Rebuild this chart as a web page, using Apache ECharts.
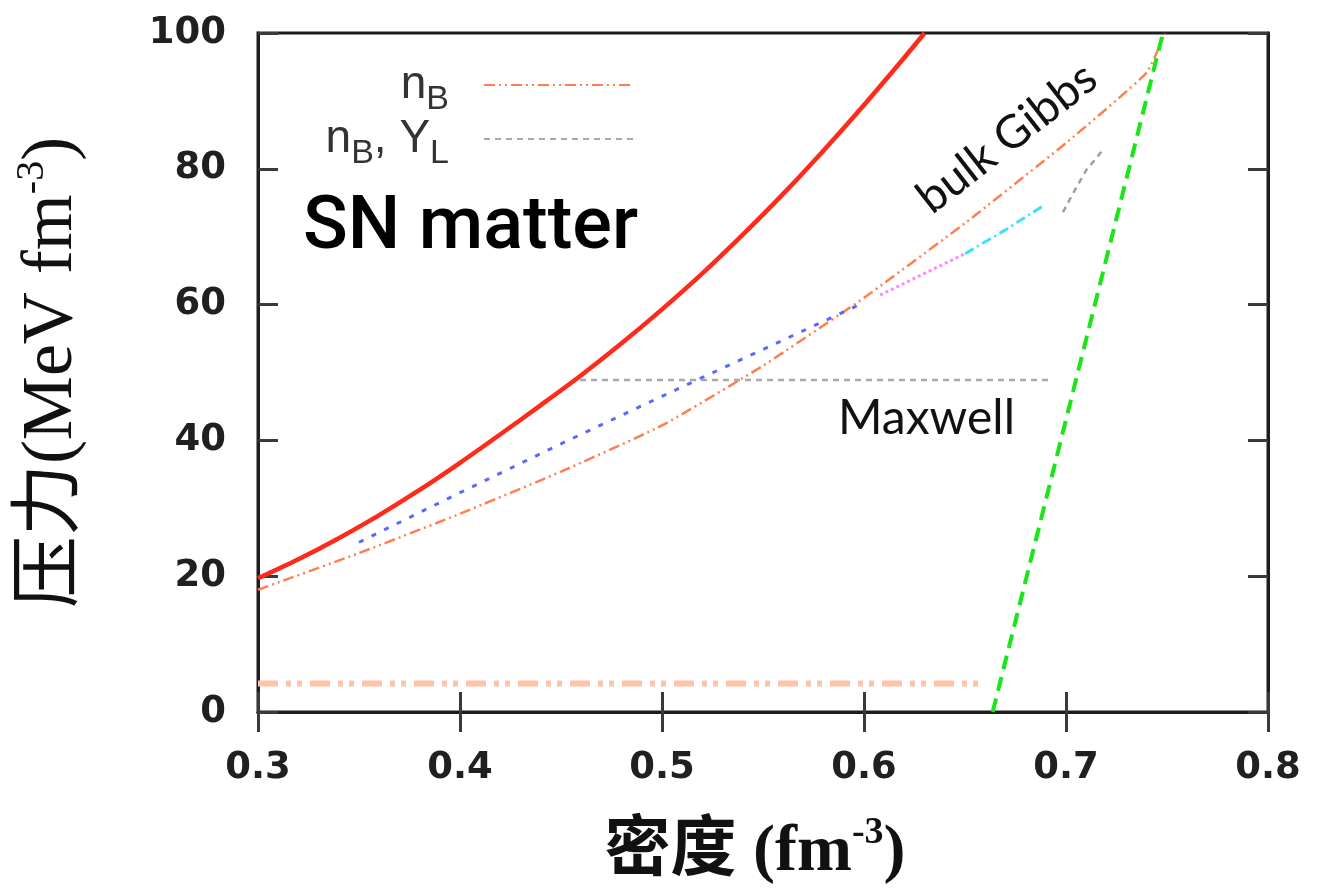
<!DOCTYPE html>
<html>
<head>
<meta charset="utf-8">
<script src="https://cdn.jsdelivr.net/npm/echarts@6/dist/echarts.min.js"></script>
<style>
  html, body { margin: 0; padding: 0; background: #ffffff; }
  #chart { width: 1318px; height: 891px; }
</style>
</head>
<body>
<div id="chart"></div>
<script>
// Axis ticks
const xTicks = [0.3, 0.4, 0.5, 0.6, 0.7, 0.8];
const yTicks = [0, 20, 40, 60, 80, 100];

// Pure phase (solid red)
const redX = [0.30, 0.32, 0.34, 0.36, 0.38, 0.40, 0.42, 0.44, 0.46, 0.48, 0.50, 0.52, 0.54, 0.56, 0.58, 0.60, 0.62, 0.63];
const redY = [19.7, 22.5, 25.6, 29.0, 32.7, 36.7, 40.9, 45.2, 49.6, 54.3, 59.3, 64.6, 70.3, 76.3, 82.7, 89.4, 96.4, 100.0];

// nB, bulk Gibbs (orange dash-dot)
const gibbsX = [0.30, 0.35, 0.40, 0.45, 0.50, 0.55, 0.60, 0.65, 0.70, 0.74, 0.749];
const gibbsY = [18.0, 23.4, 29.2, 35.4, 42.2, 51.0, 61.0, 72.0, 83.8, 94.2, 100.0];

// Mixed phase branches
const blueX = [0.35, 0.40, 0.45, 0.50, 0.55, 0.60];
const blueY = [25.0, 32.3, 39.5, 46.5, 53.4, 60.3];
const magentaX = [0.608, 0.630, 0.650];
const magentaY = [61.4, 64.6, 67.5];
const cyanX = [0.650, 0.670, 0.689];
const cyanY = [67.5, 71.0, 74.6];

// nB, YL (grey dashed): Maxwell plateau and short branch
const maxwellX = [0.4594, 0.6936];
const maxwellY = [48.9, 48.9];
const ylX = [0.6985, 0.7035, 0.710, 0.7175];
const ylY = [73.6, 76.4, 79.8, 82.5];

// Quark branch (green dashed)
const greenX = [0.6637, 0.748];
const greenY = [0, 100];

// Low-pressure line (light dash-dot)
const lowX = [0.30, 0.659];
const lowY = [4.2, 4.2];

const zip = (xs, ys) => xs.map((x, i) => [x, ys[i]]);

const GRID = { left: 258, top: 33, width: 1010, height: 679 };
const tickStyle = { show: true, inside: true, length: 20, lineStyle: { color: '#3a3a3a', width: 3 } };
const lineAxis = { show: true, lineStyle: { color: '#1e1e1e', width: 3 } };
const labelFont = { fontFamily: 'DejaVu Sans', fontWeight: 'bold', fontSize: 37, color: '#202020' };

function lineSeries(name, data, color, width, type, extra) {
  return Object.assign({
    name: name,
    type: 'line',
    data: data,
    symbol: 'none',
    smooth: false,
    silent: true,
    lineStyle: { color: color, width: width, type: type },
    itemStyle: { color: color },
    z: 3
  }, extra || {});
}

const legendRich = {
  m: { fontFamily: 'Liberation Sans', fontSize: 46, color: '#333333', lineHeight: 64, verticalAlign: 'middle' },
  s: { fontFamily: 'Liberation Sans', fontSize: 34, color: '#333333', lineHeight: 34, verticalAlign: 'bottom' }
};

const legendBase = {
  right: 1318 - 640,
  orient: 'vertical',
  align: 'right',
  itemWidth: 150,
  itemHeight: 12,
  selectedMode: false,
  itemStyle: { opacity: 0 },
  textStyle: { padding: [0, 30, 0, 0], rich: legendRich }
};

const chart = echarts.init(document.getElementById('chart'), null, { renderer: 'canvas' });

chart.setOption({
  animation: false,
  backgroundColor: '#ffffff',
  grid: Object.assign({ show: true, borderColor: '#1e1e1e', borderWidth: 3, backgroundColor: 'transparent' }, GRID),
  legend: [
    Object.assign({}, legendBase, {
      data: ['nB'],
      top: 57,
      formatter: () => '{m|n}{s|B}'
    }),
    Object.assign({}, legendBase, {
      data: ['nB, YL'],
      top: 111,
      formatter: () => '{m|n}{s|B}{m|, Y}{s|L}'
    })
  ],
  xAxis: [
    {
      type: 'value', min: 0.3, max: 0.8, interval: 0.1, position: 'bottom',
      axisLine: lineAxis, axisTick: tickStyle, splitLine: { show: false },
      axisLabel: Object.assign({ margin: 38, formatter: v => {
        const t = xTicks.find(k => Math.abs(k - v) < 1e-6);
        return t === undefined ? '' : t.toFixed(1);
      } }, labelFont),
      name: '{t|密度 (fm}{p|-3}{t|)}',
      nameLocation: 'middle',
      nameGap: 102,
      nameTextStyle: {
        verticalAlign: 'top',
        padding: [0, 16, 0, 0],
        rich: {
          t: { fontFamily: "'Liberation Serif', 'Noto Sans CJK SC'", fontWeight: 'bold', fontSize: 66, color: '#111', lineHeight: 72, verticalAlign: 'bottom' },
          p: { fontFamily: "'Liberation Serif'", fontWeight: 'bold', fontSize: 38, color: '#111', lineHeight: 72, verticalAlign: 'top' }
        }
      }
    },
    {
      type: 'value', min: 0.3, max: 0.8, interval: 0.1, position: 'top',
      axisLine: lineAxis, axisTick: tickStyle, splitLine: { show: false },
      axisLabel: { show: false }
    }
  ],
  yAxis: [
    {
      type: 'value', min: 0, max: 100, interval: 20, position: 'left',
      axisLine: lineAxis, axisTick: tickStyle, splitLine: { show: false },
      axisLabel: Object.assign({ margin: 32, formatter: v => {
        const t = yTicks.find(k => Math.abs(k - v) < 1e-6);
        return t === undefined ? '' : String(t);
      } }, labelFont),
      name: '{t|压力(MeV fm}{p|-3}{t|)}',
      nameLocation: 'middle',
      nameRotate: 90,
      nameGap: 170,
      nameTextStyle: {
        rich: {
          t: { fontFamily: "'Liberation Serif', 'Noto Sans CJK SC'", fontSize: 72, color: '#111', lineHeight: 76, verticalAlign: 'bottom' },
          p: { fontFamily: "'Liberation Serif'", fontSize: 40, color: '#111', lineHeight: 76, verticalAlign: 'top' }
        }
      }
    },
    {
      type: 'value', min: 0, max: 100, interval: 20, position: 'right',
      axisLine: lineAxis, axisTick: tickStyle, splitLine: { show: false },
      axisLabel: { show: false }
    }
  ],
  series: [
    lineSeries('red', zip(redX, redY), '#ff2a1a', 4.5, 'solid', { z: 4, smooth: 0.3 }),
    lineSeries('nB', zip(gibbsX, gibbsY), '#ff7f50', 2.5, [11, 4, 2, 4, 2, 4], { smooth: 0.15 }),
    lineSeries('blue', zip(blueX, blueY), '#5a68ff', 3, [5, 9]),
    lineSeries('magenta', zip(magentaX, magentaY), '#ff88ff', 3, [3, 3]),
    lineSeries('cyan', zip(cyanX, cyanY), '#3fe0ff', 3, [10, 4, 2, 4]),
    lineSeries('nB, YL', zip(maxwellX, maxwellY), '#a9a9a9', 2.5, [6, 5]),
    lineSeries('nB, YL', zip(ylX, ylY), '#a0a0a0', 2.5, [6, 5]),
    lineSeries('green', zip(greenX, greenY), '#19e619', 4, [14, 8], { z: 5 }),
    lineSeries('low', zip(lowX, lowY), '#ffc4a8', 6, [20, 8, 5, 6, 5, 8])
  ],
  graphic: [
    {
      type: 'text', left: 303, top: 192,
      style: { text: 'SN matter', fontFamily: 'Roboto', fontWeight: 500, fontSize: 74, fill: '#000' }
    },
    {
      type: 'text', x: 1007, y: 138, rotation: 38 * Math.PI / 180,
      style: { text: 'bulk Gibbs', fontFamily: 'Lato', fontWeight: 'normal', fontSize: 46, fill: '#111', align: 'center', verticalAlign: 'middle' }
    },
    {
      type: 'text', left: 838, top: 395,
      style: { text: 'Maxwell', fontFamily: 'Lato', fontWeight: 'normal', fontSize: 48, fill: '#111' }
    }
  ]
});
</script>
</body>
</html>
